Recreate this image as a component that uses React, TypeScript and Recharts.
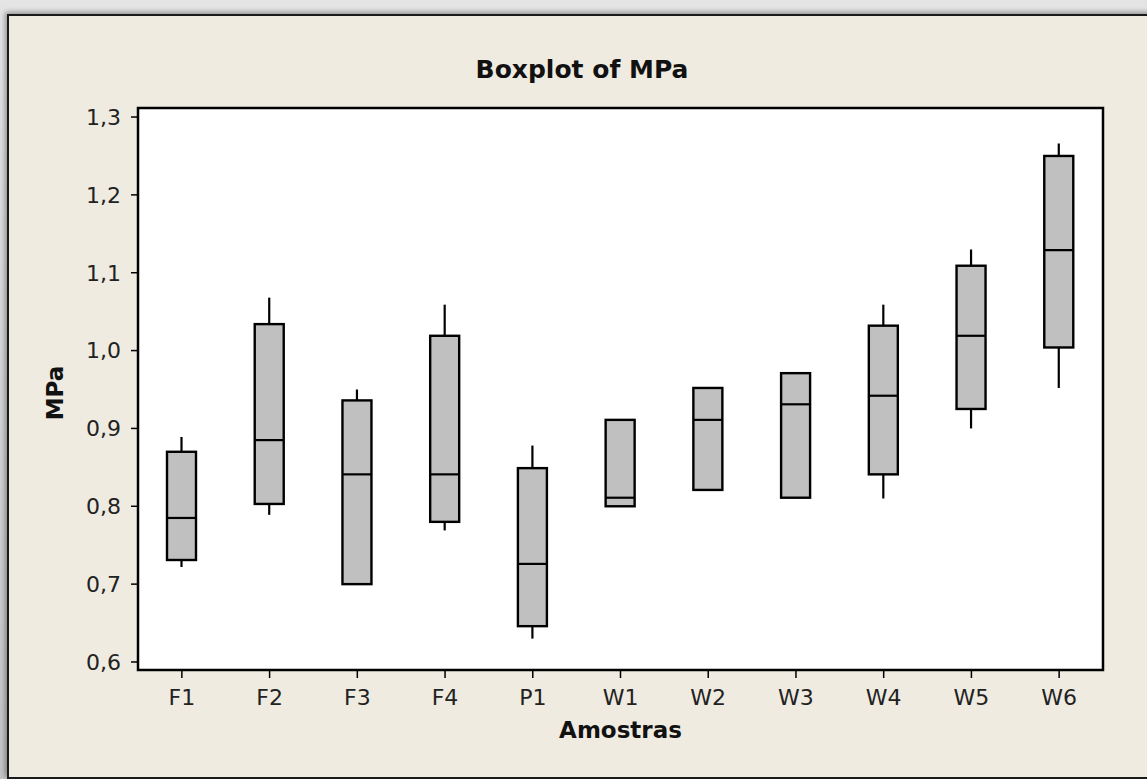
import { ComposedChart, Bar, XAxis, YAxis, CartesianGrid, ReferenceArea } from "recharts";

// Minitab boxplot: MPa by sample (Amostras)
const samples = ["F1", "F2", "F3", "F4", "P1", "W1", "W2", "W3", "W4", "W5", "W6"];
const minValues = [0.722, 0.789, 0.7, 0.769, 0.63, 0.8, 0.821, 0.811, 0.81, 0.9, 0.952];
const q1Values = [0.731, 0.803, 0.7, 0.78, 0.646, 0.8, 0.821, 0.811, 0.841, 0.925, 1.004];
const medianValues = [0.785, 0.885, 0.841, 0.841, 0.726, 0.811, 0.911, 0.931, 0.942, 1.019, 1.129];
const q3Values = [0.87, 1.034, 0.936, 1.019, 0.849, 0.911, 0.952, 0.971, 1.032, 1.109, 1.25];
const maxValues = [0.889, 1.068, 0.95, 1.059, 0.878, 0.911, 0.952, 0.971, 1.059, 1.13, 1.266];
const yTicks = [0.6, 0.7, 0.8, 0.9, 1.0, 1.1, 1.2, 1.3];
const yDomain = [0.5897, 1.3116];

const data = samples.map((name, i) => ({
  name,
  min: minValues[i],
  q1: q1Values[i],
  median: medianValues[i],
  q3: q3Values[i],
  max: maxValues[i],
}));

const FONT = "'DejaVu Sans', Verdana, sans-serif";
const fmt = (v: number) => v.toFixed(1).replace(".", ",");

function BoxShape(props: any) {
  const { x, y, width, height, payload } = props;
  const { min, q1, median, q3, max } = payload;
  const ppu = height / (q3 - q1 || 1);
  const cx = x + width / 2;
  const yMed = y + (q3 - median) * ppu;
  const yMax = y - (max - q3) * ppu;
  const yMin = y + height + (q1 - min) * ppu;
  return (
    <g>
      {max > q3 && <line x1={cx} x2={cx} y1={yMax} y2={y} stroke="#000" strokeWidth={2.2} />}
      {min < q1 && (
        <line x1={cx} x2={cx} y1={y + height} y2={yMin} stroke="#000" strokeWidth={2.2} />
      )}
      <rect x={x} y={y} width={width} height={height} fill="#c0c0c0" stroke="#000" strokeWidth={2.4} />
      <line x1={x} x2={x + width} y1={yMed} y2={yMed} stroke="#000" strokeWidth={2.2} />
    </g>
  );
}

function YTitle(props: any) {
  const { viewBox } = props;
  const x = viewBox.x + 35;
  const y = viewBox.y + viewBox.height / 2 + 4;
  return (
    <text
      x={x}
      y={y}
      transform={`rotate(-90, ${x}, ${y})`}
      textAnchor="middle"
      dominantBaseline="central"
      fontFamily={FONT}
      fontWeight="bold"
      fontSize={23}
      fill="#111"
    >
      MPa
    </text>
  );
}

export default function App() {
  return (
    <div
      style={{
        position: "absolute",
        left: 0,
        top: 0,
        width: 1147,
        height: 779,
        overflow: "hidden",
        background: "linear-gradient(#e4e4e4, #c4c4c4)",
      }}
    >
      <div
        style={{
          position: "absolute",
          left: 7,
          top: 14,
          width: 1170,
          height: 761,
          background: "#efebe1",
          border: "2px solid #1a1a1a",
          boxShadow: "-2px -2px 5px rgba(0,0,0,0.35)",
        }}
      />
      <div
        style={{
          position: "absolute",
          left: 0,
          top: 57,
          width: 1164,
          textAlign: "center",
          fontFamily: FONT,
          fontWeight: "bold",
          fontSize: 25,
          lineHeight: "25px",
          color: "#111",
        }}
      >
        Boxplot of MPa
      </div>
      <div style={{ position: "absolute", left: 0, top: 0 }}>
        <ComposedChart
          width={1147}
          height={779}
          data={data}
          margin={{ top: 108, right: 44, left: 20, bottom: 34 }}
          barCategoryGap={0}
        >
          <CartesianGrid fill="#ffffff" horizontal={false} vertical={false} />
          <XAxis
            dataKey="name"
            height={75}
            axisLine={{ stroke: "#000", strokeWidth: 2 }}
            tickLine={{ stroke: "#000", strokeWidth: 1.5 }}
            tickSize={8}
            tickMargin={11}
            tick={{ fontFamily: FONT, fontSize: 22, fill: "#222" }}
            interval={0}
            label={{
              value: "Amostras",
              position: "insideBottom",
              offset: 7,
              style: { fontFamily: FONT, fontWeight: "bold", fontSize: 23, fill: "#111" },
            }}
          />
          <YAxis
            width={118}
            domain={yDomain}
            ticks={yTicks}
            allowDataOverflow
            tickFormatter={fmt}
            axisLine={{ stroke: "#000", strokeWidth: 2 }}
            tickLine={{ stroke: "#000", strokeWidth: 1.5 }}
            tickSize={7}
            tickMargin={10}
            tick={{ fontFamily: FONT, fontSize: 22, fill: "#222" }}
            label={<YTitle />}
          />
          <ReferenceArea
            y1={yDomain[0]}
            y2={yDomain[1]}
            fill="none"
            fillOpacity={0}
            stroke="#000"
            strokeWidth={2.5}
            ifOverflow="visible"
          />
          <Bar
            dataKey={(d: any) => [d.q1, d.q3]}
            barSize={29}
            shape={<BoxShape />}
            isAnimationActive={false}
          />
        </ComposedChart>
      </div>
    </div>
  );
}
